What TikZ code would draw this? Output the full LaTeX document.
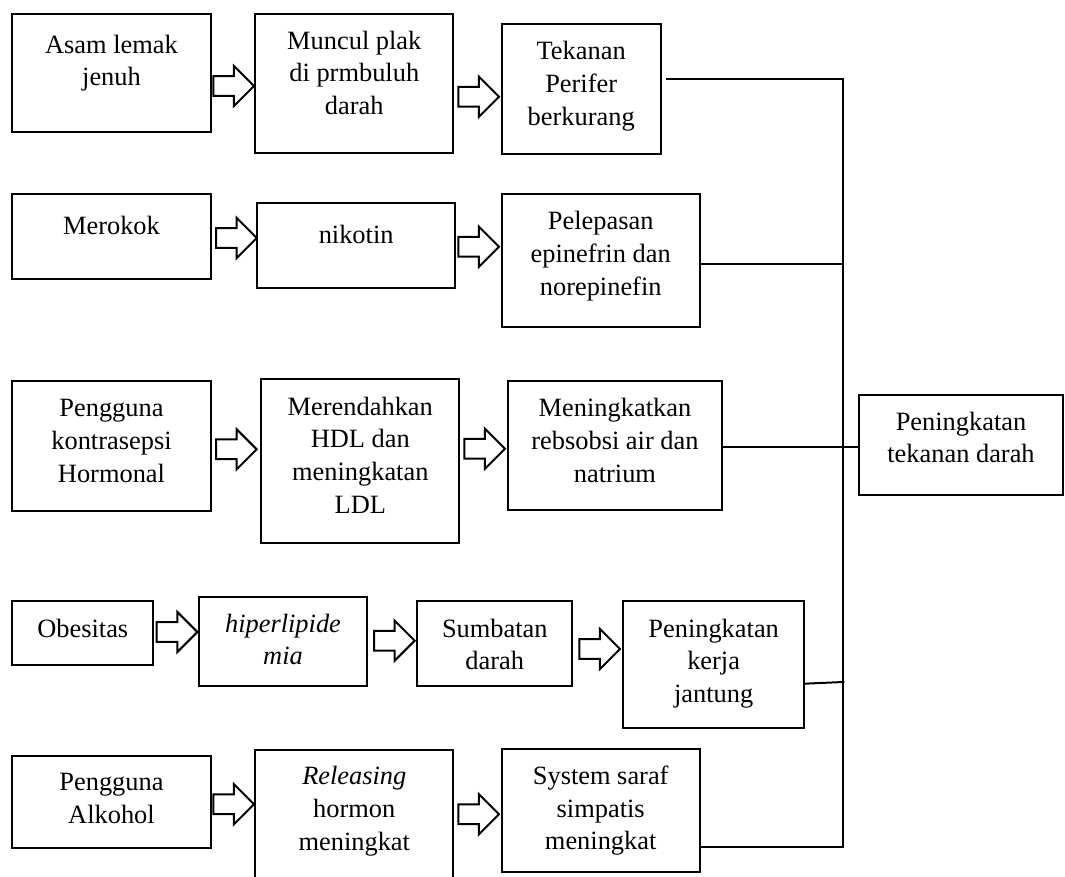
\documentclass[tikz,border=0pt]{standalone}
\usepackage{fontspec}
\setmainfont{Liberation Serif}
\usetikzlibrary{calc,shapes.arrows}
\tikzset{
  box/.style={draw, line width=2pt, rectangle, inner sep=0pt, outer sep=0pt, anchor=north west},
  txt/.style={inner sep=0pt, align=center, anchor=base, font=\fontsize{26.4}{32.7}\selectfont},
  barrow/.style={single arrow, draw, line width=2pt, inner xsep=0pt, inner ysep=8.85pt,
    text height=0pt, text depth=0pt, text width=0pt, minimum height=40.7pt,
    single arrow head extend=10.3pt, single arrow tip angle=90, anchor=tail, outer sep=0pt},
  bus/.style={line width=2pt, line cap=rect}
}
\begin{document}
\begin{tikzpicture}[x=1pt,y=-1pt]
\useasboundingbox (0,0) rectangle (1065,877);
% row 1
\node[box, minimum width=198.4pt, minimum height=117.7pt] (a1) at (12.3,14) {};
\node[box, minimum width=198pt, minimum height=139.3pt] (a2) at (255.3,14) {};
\node[box, minimum width=159pt, minimum height=129.4pt] (a3) at (501.7,24.3) {};
\node[txt] (a1t) at ($(a1.north)+(0,72)$) {Asam lemak\\jenuh};
\node[txt] (a2t) at ($(a2.north)+(0,100.7)$) {Muncul plak\\di prmbuluh\\darah};
\node[txt] (a3t) at ($(a3.north)+(0,101.1)$) {Tekanan\\Perifer\\berkurang};
% row 2
\node[box, minimum width=198.4pt, minimum height=85pt] (b1) at (12.3,194.3) {};
\node[box, minimum width=198.3pt, minimum height=85.6pt] (b2) at (257,202.7) {};
\node[box, minimum width=198pt, minimum height=133pt] (b3) at (501.7,194.3) {};
\node[txt] (b1t) at ($(b1.north)+(0,40.7)$) {Merokok};
\node[txt] (b2t) at ($(b2.north)+(0,40.6)$) {nikotin};
\node[txt] (b3t) at ($(b3.north)+(0,101.1)$) {Pelepasan\\epinefrin dan\\norepinefin};
% row 3
\node[box, minimum width=198.4pt, minimum height=129.7pt] (c1) at (12.3,381) {};
\node[box, minimum width=198pt, minimum height=164pt] (c2) at (261.3,379.3) {};
\node[box, minimum width=214.7pt, minimum height=129pt] (c3) at (507.6,381.3) {};
\node[box, minimum width=204pt, minimum height=100pt] (p) at (859,394.7) {};
\node[txt] (c1t) at ($(c1.north)+(0,101.1)$) {Pengguna\\kontrasepsi\\Hormonal};
\node[txt] (c2t) at ($(c2.north)+(0,133.8)$) {Merendahkan\\HDL dan\\meningkatan\\LDL};
\node[txt] (c3t) at ($(c3.north)+(0,100.8)$) {Meningkatkan\\rebsobsi air dan\\natrium};
\node[txt] (pt) at ($(p.north)+(0,68)$) {Peningkatan\\tekanan darah};
% row 4
\node[box, minimum width=141pt, minimum height=64pt] (d1) at (12.3,601) {};
\node[box, minimum width=167.4pt, minimum height=89.3pt] (d2) at (199.3,597) {};
\node[box, minimum width=155pt, minimum height=85.3pt] (d3) at (417.3,601) {};
\node[box, minimum width=181.3pt, minimum height=127pt] (d4) at (623,601) {};
\node[txt] (d1t) at ($(d1.north)+(0,36)$) {Obesitas};
\node[txt] (d2t) at ($(d2.north)+(0,67.7)$) {\textit{hiperlipide}\\\textit{mia}};
\node[txt] (d3t) at ($(d3.north)+(0,68.7)$) {Sumbatan\\darah};
\node[txt] (d4t) at ($(d4.north)+(0,101.4)$) {Peningkatan\\kerja\\jantung};
% row 5
\node[box, minimum width=198.4pt, minimum height=91.7pt] (e1) at (12.3,756) {};
\node[box, minimum width=198pt, minimum height=130.3pt] (e2) at (255.3,749.7) {};
\node[box, minimum width=198pt, minimum height=122.4pt] (e3) at (501.7,749.3) {};
\node[txt] (e1t) at ($(e1.north)+(0,67)$) {Pengguna\\Alkohol};
\node[txt] (e2t) at ($(e2.north)+(0,100.4)$) {\textit{Releasing}\\hormon\\meningkat};
\node[txt] (e3t) at ($(e3.north)+(0,100.4)$) {System saraf\\simpatis\\meningkat};
% block arrows
\node[barrow] (r11) at (213.3,86) {};
\node[barrow] (r12) at (458.3,96.7) {};
\node[barrow] (r21) at (216,238) {};
\node[barrow] (r22) at (458.3,246.7) {};
\node[barrow] (r31) at (216,449.3) {};
\node[barrow] (r32) at (464.3,448.7) {};
\node[barrow] (r41) at (156.7,632) {};
\node[barrow] (r42) at (374,640.7) {};
\node[barrow] (r43) at (579.3,649) {};
\node[barrow] (r51) at (213.3,804.3) {};
\node[barrow] (r52) at (458.3,814.3) {};
% collecting bus
\coordinate (btop) at (843.3,79.3);
\coordinate (bbot) at (843.3,847);
\coordinate (bk) at (843.3,682);
\draw[bus] ($(btop -| a3.east)+(6.6,0)$) -- (btop) -- (bbot) -- (bbot -| e3.east);
\draw[bus] (b3.east |- 0,264.3) -- (843.3,264.3);
\draw[bus] (c3.east |- 0,446.7) -- (p.west |- 0,446.7);
\draw[bus] (d4.east |- 0,683.7) -- (bk);
\end{tikzpicture}
\end{document}
